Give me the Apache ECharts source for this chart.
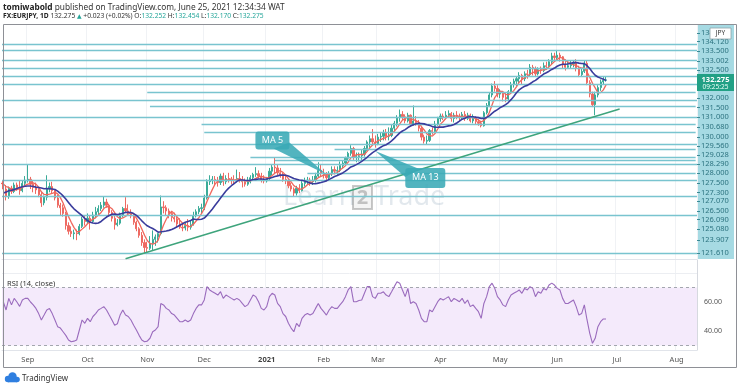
<!DOCTYPE html>
<html><head><meta charset="utf-8">
<script src="https://cdn.jsdelivr.net/npm/echarts@6/dist/echarts.min.js"></script>
<style>html,body{margin:0;padding:0;background:#fff}#c{width:740px;height:389px}</style>
</head><body><div id="c"></div>
<script>
// ---------- DATA ----------
// daily candles [open, high, low, close]; Aug 3-18 2020 only feed the moving averages (view starts Aug 19)
const aug20 = [
[124.45,124.70,124.10,124.45],[124.45,124.75,124.25,124.50],[124.50,125.10,124.40,125.00],[125.00,125.40,124.85,125.30],
[125.30,125.40,124.55,124.75],[124.75,124.95,124.40,124.70],[124.70,125.45,124.60,125.30],[125.30,125.85,125.10,125.70],
[125.70,126.10,125.55,125.95],[125.95,126.05,125.55,125.85],[125.85,126.05,125.60,125.95],[125.95,126.30,125.80,126.05],
[126.05,126.20,125.40,125.55],[125.55,125.80,124.85,125.10],[125.10,125.70,124.95,125.60],[125.60,125.75,125.25,125.40],
[125.40,125.95,125.30,125.80],[125.80,125.95,125.45,125.65],[125.65,126.10,125.20,125.45],[125.45,126.10,125.35,125.90],
[125.90,126.35,125.75,126.10]];
const sep20 = [
[126.10,127.07,125.95,126.15],[126.15,126.30,125.55,125.85],[125.85,126.05,125.35,125.65],[125.65,125.95,125.25,125.50],
[125.50,125.60,125.05,125.20],[125.20,125.35,124.45,124.70],[124.70,125.15,124.55,125.05],[125.05,126.40,124.85,125.55],
[125.55,125.95,125.35,125.70],[125.70,126.00,125.30,125.45],[125.45,125.55,124.85,125.00],[125.00,125.20,124.40,124.55],
[124.55,124.70,123.90,124.40],[124.40,124.60,123.85,124.05],[124.05,124.15,123.05,123.30],[123.30,123.50,122.75,122.95],
[122.95,123.25,122.60,122.80],[122.80,123.05,122.45,122.85],[122.85,123.05,122.40,122.80],[122.80,123.40,122.70,123.25],
[123.25,123.85,123.15,123.70],[123.70,123.95,123.30,123.55]];
const oct20 = [
[123.55,124.05,123.40,123.75],[123.75,123.90,123.05,123.55],[123.55,124.15,123.45,123.95],[123.95,124.45,123.75,124.15],
[124.15,124.55,123.95,124.35],[124.35,124.75,124.20,124.55],[124.55,125.10,124.40,124.75],[124.75,124.95,124.40,124.55],
[124.55,124.65,123.95,124.10],[124.10,124.25,123.55,123.75],[123.75,123.90,123.05,123.35],[123.35,123.70,123.25,123.45],
[123.45,124.10,123.35,123.95],[123.95,124.45,123.80,124.35],[124.35,125.05,124.10,124.20],[124.20,124.60,123.90,124.10],
[124.10,124.30,123.75,123.90],[123.90,124.00,123.35,123.50],[123.50,123.60,122.95,123.10],[123.10,123.20,122.55,122.70],
[122.70,122.90,122.05,122.25],[122.25,122.45,121.60,121.95]];
const nov20 = [
[121.95,122.30,121.65,121.90],[121.90,122.65,121.80,122.20],[122.20,123.00,121.75,122.45],[122.45,122.75,122.05,122.60],
[122.60,122.85,122.25,122.80],[122.80,125.15,122.70,124.45],[124.45,124.80,124.05,124.40],[124.40,124.55,123.90,124.20],
[124.20,124.35,123.75,124.05],[124.05,124.15,123.55,123.80],[123.80,124.10,123.50,123.70],[123.70,123.85,123.20,123.40],
[123.40,123.75,123.10,123.20],[123.20,123.45,122.95,123.15],[123.15,123.50,123.00,123.30],[123.30,123.70,122.95,123.20],
[123.20,123.60,123.05,123.35],[123.35,124.15,123.30,123.90],[123.90,124.30,123.80,124.15],[124.15,124.50,124.00,124.35],
[124.35,124.65,124.05,124.40]];
const dec20 = [
[124.40,125.20,124.25,125.00],[125.00,126.15,124.90,126.00],[126.00,126.40,125.80,126.10],[126.10,126.35,125.85,126.15],
[126.15,126.35,125.75,126.05],[126.05,126.30,125.70,125.95],[125.95,126.50,125.80,126.35],[126.35,126.55,125.75,126.00],
[126.00,126.40,125.85,126.20],[126.20,126.55,125.95,126.15],[126.15,126.30,125.85,126.10],[126.10,126.40,125.85,126.05],
[126.05,126.75,125.95,126.20],[126.20,126.60,125.95,126.15],[126.15,126.35,125.65,126.00],[126.00,126.20,125.70,125.85],
[125.85,126.30,125.75,126.00],[126.00,126.40,125.90,126.25],[126.25,126.55,126.15,126.45],[126.45,126.90,126.30,126.50],
[126.50,126.70,126.20,126.35],[126.35,126.55,125.95,126.10],[126.10,126.40,125.90,126.05]];
const jan21 = [
[126.05,126.30,125.95,126.20],[126.20,126.85,126.05,126.65],[126.65,127.05,126.40,126.90],[126.90,127.50,126.50,126.85],
[126.85,127.05,126.40,126.55],[126.55,126.85,126.25,126.45],[126.45,126.55,126.00,126.15],[126.15,126.40,125.85,126.05],
[126.05,126.15,125.60,125.75],[125.75,125.95,125.40,125.55],[125.55,125.65,125.10,125.30],[125.30,125.75,125.15,125.60],
[125.60,125.85,125.30,125.45],[125.45,126.05,125.40,125.90],[125.90,126.25,125.70,126.05],[126.05,126.30,125.80,126.10],
[126.10,126.25,125.75,126.00],[126.00,126.35,125.80,126.10],[126.10,126.55,125.95,126.35],[126.35,127.20,126.25,126.70],
[126.70,127.05,126.30,126.50]];
const feb21 = [
[126.50,126.80,126.20,126.40],[126.40,126.60,126.05,126.25],[126.25,126.65,126.15,126.50],[126.50,126.95,126.35,126.75],
[126.75,126.95,126.45,126.65],[126.65,126.95,126.40,126.70],[126.70,127.25,126.60,127.00],[127.00,127.30,126.85,127.15],
[127.15,127.55,127.05,127.45],[127.45,127.85,127.30,127.75],[127.75,128.25,127.60,128.05],[128.05,128.15,127.35,127.50],
[127.50,127.80,127.20,127.55],[127.55,127.80,127.25,127.60],[127.60,127.95,127.35,127.70],[127.70,128.20,127.55,128.05],
[128.05,128.55,127.90,128.45],[128.45,128.85,128.10,128.65],[128.65,129.25,128.25,128.45],[128.45,128.85,128.10,128.35]];
const mar21 = [
[128.35,128.95,128.25,128.75],[128.75,129.05,128.45,128.80],[128.80,129.20,128.55,129.00],[129.00,129.25,128.55,128.80],
[128.80,129.35,128.55,128.85],[128.85,129.50,128.75,129.30],[129.30,129.75,129.10,129.60],[129.60,130.10,129.40,129.95],
[129.95,130.45,129.70,130.15],[130.15,130.35,129.80,130.00],[130.00,130.15,129.60,129.75],[129.75,130.25,129.65,130.10],
[130.10,130.15,129.40,129.55],[129.55,130.70,129.45,129.75],[129.75,130.05,129.45,129.65],[129.65,129.80,129.10,129.30],
[129.30,129.40,128.55,128.75],[128.75,128.90,128.35,128.50],[128.50,128.85,128.30,128.55],[128.55,129.25,128.45,129.15],
[129.15,129.35,128.90,129.10],[129.10,129.75,129.05,129.55],[129.55,130.00,129.45,129.90]];
const apr21 = [
[129.90,130.20,129.70,130.05],[130.05,130.20,129.80,129.95],[129.95,130.35,129.85,130.10],[130.10,130.40,129.95,130.20],
[130.20,130.30,129.70,129.90],[129.90,130.25,129.65,130.10],[130.10,130.35,129.85,130.00],[130.00,130.20,129.75,129.95],
[129.95,130.30,129.80,130.15],[130.15,130.35,129.75,129.90],[129.90,130.25,129.80,130.10],[130.10,130.20,129.65,129.75],
[129.75,130.15,129.60,129.90],[129.90,130.05,129.55,129.70],[129.70,129.85,129.45,129.60],[129.60,129.75,129.35,129.45],
[129.45,130.35,129.40,130.25],[130.25,130.85,130.15,130.70],[130.70,131.50,130.60,131.35],[131.35,132.05,131.20,131.90],
[131.90,132.20,131.55,131.75],[131.75,131.95,131.20,131.40]];
const may21 = [
[131.40,131.70,131.15,131.50],[131.50,131.60,130.95,131.20],[131.20,131.45,130.90,131.10],[131.10,131.65,131.00,131.55],
[131.55,132.15,131.40,132.00],[132.00,132.35,131.80,132.20],[132.20,132.50,131.90,132.35],[132.35,132.75,132.00,132.55],
[132.55,132.65,132.00,132.35],[132.35,132.80,132.20,132.65],[132.65,132.90,132.35,132.60],[132.60,133.25,132.50,133.05],
[133.05,133.20,132.55,132.95],[132.95,133.10,132.45,132.65],[132.65,133.05,132.55,132.90],[132.90,133.10,132.65,132.85],
[132.85,133.35,132.75,133.15],[133.15,133.40,132.90,133.10],[133.10,133.55,133.00,133.40],[133.40,133.95,133.25,133.75],
[133.75,133.95,133.45,133.65]];
const jun21 = [
[133.65,134.12,133.50,133.80],[133.80,133.95,133.40,133.70],[133.70,133.75,132.95,133.20],[133.20,133.55,132.85,133.05],
[133.05,133.45,132.95,133.15],[133.15,133.45,132.95,133.25],[133.25,133.50,133.05,133.35],[133.35,133.55,132.80,133.00],
[133.00,133.15,132.45,132.60],[132.60,132.95,132.50,132.80],[132.80,133.45,132.70,133.30],[133.30,133.50,131.95,132.10],
[132.10,132.25,131.20,131.40],[131.40,131.55,130.60,130.75],[130.75,131.55,130.10,131.35],[131.35,131.95,131.20,131.80],
[131.80,132.30,131.60,132.15],[132.15,132.45,132.00,132.25],[132.252,132.454,132.170,132.275]];

// RSI(14) from Aug 19 2020 to Jun 25 2021
const rsi14 = [
60,54.5,62.5,58,62.5,60,57,61.4,62.5,
62.5,60,58,55.6,52,47.6,51,54.5,55.6,52,47.6,43,42,39.5,37,33.8,32.6,33,33.8,40.7,47.6,45.3,
48.7,46.4,50,52,54.5,55.6,56.8,54.5,51,47.6,44,45,51,54.5,51,50,47.6,44,40.7,37,33.8,32.6,
33,35,39.5,40.7,43,59,58,55.6,54.5,52,51,48.7,46.4,46.4,47.6,46.4,47.6,52,55.6,58,58,
61.4,70.6,68.3,67.1,66,64.8,67.1,62.5,64.8,63.7,62.5,61.4,62.5,61.4,59,56.8,58,61.4,64.8,63.7,60.2,55.6,54.5,
56.8,63.7,66,64.8,59,56.8,52,50,45.3,42,39.5,45.3,43,48.7,51,52,51,52,55.6,59,55.6,
53.3,51,54.5,56.8,55.6,55.6,58,60.2,63.7,68.3,70.6,60.2,60.2,61,61.4,66,70.6,70.6,63.7,62.5,
66,66,67,64.8,63.7,67,70.6,74,73,68.3,63.7,69.4,59,60.2,59,54.5,48.7,46.4,46.4,54.5,53.3,56.8,60.2,
62.5,61.4,62.5,63.7,60.2,62.5,61.4,60.2,62.5,59,61.4,56.8,58,55.6,53.3,48.7,59,63.7,70.6,73,69.4,63.7,
61.4,58,56.8,61.4,64.8,66,67,68.3,66,69.4,68.3,70.6,69.4,63.7,67,66,69.4,68.3,71.7,73,71.7,
69.4,68.3,62.5,59,59,60.2,61.4,56.8,51,52,58,47.6,38.4,31.5,35,43,46.4,48.3,48.3];

// horizontal levels drawn by the author, and the date each one starts (null = full width)
const levels     = [134.500,134.120,133.500,133.002,132.500,132.000,131.500,131.000,130.680,130.000,129.560,129.028,128.290,128.000,127.500,127.300,127.070,126.500,126.090,125.080,123.907,121.610];
const levelStart = [null,null,null,null,null,null,'2020-11-02',null,'2020-11-03',null,'2020-11-30','2020-12-01',null,'2021-02-05','2020-12-24','2021-01-06',null,'2021-01-22',null,null,null,null];
// rising trendline (two anchor points)
const trendDates  = ['2020-10-21','2021-07-02'];
const trendPrices = [121.25, 130.48];
const lastPrice = 132.275;
const rsiTicks = [40, 60];
const MONTHS = ['Jan','Feb','Mar','Apr','May','Jun','Jul','Aug','Sep','Oct','Nov','Dec'];

// ---------- LAYOUT (pixel positions, not data) ----------
const labelSlotY = [33,41.5,51,61,70,98,107.5,117,127,137,146,155,164,173,183,192.5,201,211,219.5,229,240,253];
const FONT = '"Noto Sans", "Open Sans", sans-serif';

// ---------- BUILD ----------
function tradingDays(from, to){
  const out=[]; let t=Date.parse(from+'T00:00:00Z'); const end=Date.parse(to+'T00:00:00Z');
  while(t<=end){ const d=new Date(t); const wd=d.getUTCDay();
    if(wd!==0&&wd!==6) out.push(d.toISOString().slice(0,10)); t+=86400000; }
  return out;
}
const dates = tradingDays('2020-08-03','2021-08-11');
const FIRST = 12; // first visible bar (2020-08-19)
const bars = [].concat(aug20,sep20,oct20,nov20,dec20,jan21,feb21,mar21,apr21,may21,jun21);
const candleData = bars.map(b=>[b[0],b[3],b[2],b[1]]);
const closes = bars.map(b=>b[3]);
function sma(arr,n){ return arr.map((v,i)=>{ if(i<n-1) return null; let s=0; for(let k=i-n+1;k<=i;k++) s+=arr[k]; return +(s/n).toFixed(4); }); }
const ma5 = sma(closes,5), ma13 = sma(closes,13);
const rsiData = new Array(FIRST).fill(null).concat(rsi14);
const lastDate = dates[dates.length-1];
const isMonthStart = i => i===0 || dates[i].slice(5,7)!==dates[i-1].slice(5,7);

const levelLines = levels.map((p,i)=> levelStart[i] ? [{coord:[levelStart[i],p]},{coord:[lastDate,p]}] : {yAxis:p});
const slotText = {}; labelSlotY.forEach((y,i)=>{ slotText[y]=levels[i].toFixed(3); });

const chart = echarts.init(document.getElementById('c'), null, {renderer:'canvas'});
chart.setOption({
  animation:false,
  backgroundColor:'#ffffff',
  grid:[{left:2,right:43,top:25,bottom:130},{left:2,right:43,top:260,bottom:39}],
  xAxis:[
    {type:'category',gridIndex:0,data:dates,min:FIRST,boundaryGap:true,
     axisLine:{show:true,lineStyle:{color:'#e1e4ea'}},axisTick:{show:false},axisLabel:{show:false},
     splitLine:{show:true,interval:(i)=>isMonthStart(i),lineStyle:{color:'#f0f2f5'}}},
    {type:'category',gridIndex:1,data:dates,min:FIRST,boundaryGap:true,
     axisLine:{show:true,lineStyle:{color:'#e1e4ea'}},axisTick:{show:false},
     splitLine:{show:true,interval:(i)=>isMonthStart(i),lineStyle:{color:'#f0f2f5'}},
     axisLabel:{interval:(i)=>isMonthStart(i),margin:6,fontSize:7.5,color:'#555',fontFamily:FONT,
       formatter:(v)=>{const m=+v.slice(5,7); return m===1?'{y|'+v.slice(0,4)+'}':MONTHS[m-1];},
       rich:{y:{fontWeight:'bold',fontSize:7.5,color:'#444',fontFamily:FONT}}}}
  ],
  yAxis:[
    {type:'value',gridIndex:0,min:121.24,max:135.658,show:false,splitLine:{show:false}},
    {type:'value',gridIndex:0,min:25,max:259,inverse:true,position:'right',
     axisLine:{show:false},splitLine:{show:false},
     axisTick:{show:true,customValues:labelSlotY,length:3,lineStyle:{color:'#3c8a95'}},
     axisLabel:{customValues:labelSlotY,margin:4,fontSize:7.5,color:'#2d7480',fontFamily:FONT,
       formatter:(v)=>slotText[v]||''}},
    {type:'value',gridIndex:1,min:26.897,max:88.966,position:'right',
     axisLine:{show:true,lineStyle:{color:'#d6d9df'}},axisTick:{show:false},splitLine:{show:false},
     axisLabel:{customValues:rsiTicks,margin:7,fontSize:7,color:'#555',fontFamily:FONT,formatter:(v)=>v.toFixed(2)}}
  ],
  series:[
    {type:'candlestick',xAxisIndex:0,yAxisIndex:0,data:candleData,barWidth:'62%',clip:true,
     itemStyle:{color:'#3bab98',color0:'#ee6a62',borderColor:'#3bab98',borderColor0:'#ee6a62',borderWidth:1},
     markLine:{silent:true,symbol:['none','none'],label:{show:false},
       lineStyle:{color:'#79c4cf',width:1.3,type:'solid'},emphasis:{disabled:true},data:levelLines}},
    {type:'line',xAxisIndex:0,yAxisIndex:0,data:ma5,showSymbol:false,symbol:'none',clip:true,
     lineStyle:{color:'#f0675c',width:1.3},z:4},
    {type:'line',xAxisIndex:0,yAxisIndex:0,data:ma13,showSymbol:false,symbol:'none',clip:true,
     lineStyle:{color:'#3a3c9c',width:1.6},z:5},
    {type:'line',xAxisIndex:0,yAxisIndex:0,data:trendDates.map((d,i)=>[d,trendPrices[i]]),showSymbol:false,symbol:'none',clip:true,
     lineStyle:{color:'#3ea47c',width:1.5},z:6},
    {type:'line',xAxisIndex:1,yAxisIndex:2,data:rsiData,showSymbol:false,symbol:'none',clip:true,
     lineStyle:{color:'#9a6bbd',width:1.1},z:5,
     markArea:{silent:true,itemStyle:{color:'#f4eafb'},data:[[{yAxis:30},{yAxis:70}]]},
     markLine:{silent:true,symbol:['none','none'],label:{show:false},
       data:[{yAxis:80,lineStyle:{type:'solid',color:'#eceef2',width:1}},
             {yAxis:70,lineStyle:{type:[3,3],color:'#a3a6ae',width:1}},
             {yAxis:30,lineStyle:{type:[3,3],color:'#a3a6ae',width:1}}]}}
  ]
});

// ---------- ANNOTATIONS (anchored through the chart's own scales) ----------
const px = (d,p)=>chart.convertToPixel({xAxisIndex:0,yAxisIndex:0},[d,p]);
const priceY = chart.convertToPixel({yAxisIndex:0}, lastPrice);
const tip5 = px('2021-02-02', ma5[dates.indexOf('2021-02-02')]);
const tip13 = px('2021-02-26', ma13[dates.indexOf('2021-02-26')]);
const CALL = 'rgba(58,170,182,0.88)';
const b5 = {x:tip5[0]-71, y:tip5[1]-43, w:34, h:18};
const b13 = {x:tip13[0]+30, y:tip13[1]+17, w:40, h:20};

chart.setOption({graphic:[
  // price-scale background
  {type:'rect',z:-1,silent:true,shape:{x:697,y:25,width:37,height:234},style:{fill:'#a6dae3'}},
  // watermark
  {type:'text',z:1,silent:true,x:283,y:197,style:{text:'Learn',fontSize:27,fontFamily:FONT,fill:'rgba(160,178,196,0.30)',verticalAlign:'middle'}},
  {type:'rect',z:1,silent:true,shape:{x:353,y:186,width:19,height:23},style:{fill:'rgba(120,120,120,0.08)',stroke:'rgba(100,100,100,0.35)',lineWidth:2}},
  {type:'text',z:1,silent:true,x:362.5,y:198,style:{text:'2',fontSize:20,fontWeight:'bold',fontFamily:FONT,fill:'rgba(110,110,110,0.38)',align:'center',verticalAlign:'middle'}},
  {type:'text',z:1,silent:true,x:374,y:197,style:{text:'Trade',fontSize:27,fontFamily:FONT,fill:'rgba(160,178,196,0.30)',verticalAlign:'middle'}},
  // callouts
  {type:'polygon',z:20,silent:true,shape:{points:[[b5.x+18,b5.y+b5.h-1],[b5.x+b5.w,b5.y+b5.h-7],tip5]},style:{fill:CALL}},
  {type:'rect',z:21,silent:true,shape:{x:b5.x,y:b5.y,width:b5.w,height:b5.h,r:3},style:{fill:CALL}},
  {type:'text',z:22,silent:true,x:b5.x+b5.w/2,y:b5.y+b5.h/2,style:{text:'MA 5',fontSize:9,fontFamily:FONT,fill:'#fff',align:'center',verticalAlign:'middle'}},
  {type:'polygon',z:20,silent:true,shape:{points:[[b13.x,b13.y+9],[b13.x+14,b13.y+1],tip13]},style:{fill:CALL}},
  {type:'rect',z:21,silent:true,shape:{x:b13.x,y:b13.y,width:b13.w,height:b13.h,r:3},style:{fill:CALL}},
  {type:'text',z:22,silent:true,x:b13.x+b13.w/2,y:b13.y+b13.h/2,style:{text:'MA 13',fontSize:9,fontFamily:FONT,fill:'#fff',align:'center',verticalAlign:'middle'}},
  // currency + last price boxes
  {type:'rect',z:30,silent:true,shape:{x:710,y:28,width:21,height:11},style:{fill:'#fff',stroke:'#8fa3a8',lineWidth:0.8}},
  {type:'text',z:31,silent:true,x:720.5,y:33.5,style:{text:'JPY',fontSize:6.5,fontFamily:FONT,fill:'#333',align:'center',verticalAlign:'middle'}},
  {type:'rect',z:30,silent:true,shape:{x:697,y:priceY-6,width:37,height:17},style:{fill:'#22a085'}},
  {type:'text',z:31,silent:true,x:715.5,y:priceY,style:{text:lastPrice.toFixed(3),fontSize:7.5,fontWeight:'bold',fontFamily:FONT,fill:'#fff',align:'center',verticalAlign:'middle'}},
  {type:'text',z:31,silent:true,x:715.5,y:priceY+7,style:{text:'09:25:25',fontSize:6.5,fontFamily:FONT,fill:'#eafff8',align:'center',verticalAlign:'middle'}},
  // RSI pane title
  {type:'text',z:31,silent:true,x:7,y:283.5,style:{text:'RSI (14, close)',fontSize:7.5,fontFamily:FONT,fill:'#333',verticalAlign:'middle'}},
  // frame
  {type:'rect',z:100,silent:true,shape:{x:3.5,y:24.5,width:733,height:343},style:{fill:null,stroke:'#8e9096',lineWidth:1}},
  // header
  {type:'text',z:31,silent:true,x:3,y:7.5,style:{text:'{b|tomiwabold} published on TradingView.com, June 25, 2021 12:34:34 WAT',
     fontSize:8.3,fontFamily:FONT,fill:'#333',verticalAlign:'middle',rich:{b:{fontSize:8.3,fontWeight:'bold',fontFamily:FONT,fill:'#222'}}}},
  {type:'text',z:31,silent:true,x:3,y:16.5,style:{text:'{b|FX:EURJPY, 1D} 132.275 {g|▲} +0.023 (+0.02%) O:{v|132.252} H:{v|132.454} L:{v|132.170} C:{v|132.275}',
     fontSize:6.7,fontFamily:FONT,fill:'#333',verticalAlign:'middle',
     rich:{b:{fontSize:6.7,fontWeight:'bold',fontFamily:FONT,fill:'#222'},g:{fontSize:6,fontFamily:'DejaVu Sans',fill:'#26a69a'},v:{fontSize:6.7,fontFamily:FONT,fill:'#26a69a'}}}},
  // footer logo
  {type:'circle',z:31,silent:true,shape:{cx:8,cy:379,r:3.2},style:{fill:'#2f7fe0'}},
  {type:'circle',z:31,silent:true,shape:{cx:12.5,cy:376.5,r:4.2},style:{fill:'#2f7fe0'}},
  {type:'circle',z:31,silent:true,shape:{cx:17,cy:379.5,r:2.8},style:{fill:'#2f7fe0'}},
  {type:'rect',z:31,silent:true,shape:{x:8,y:378.5,width:9,height:3.8},style:{fill:'#2f7fe0'}},
  {type:'text',z:31,silent:true,x:22,y:378.5,style:{text:'TradingView',fontSize:8,fontFamily:FONT,fill:'#333',verticalAlign:'middle'}}
]});
</script></body></html>
